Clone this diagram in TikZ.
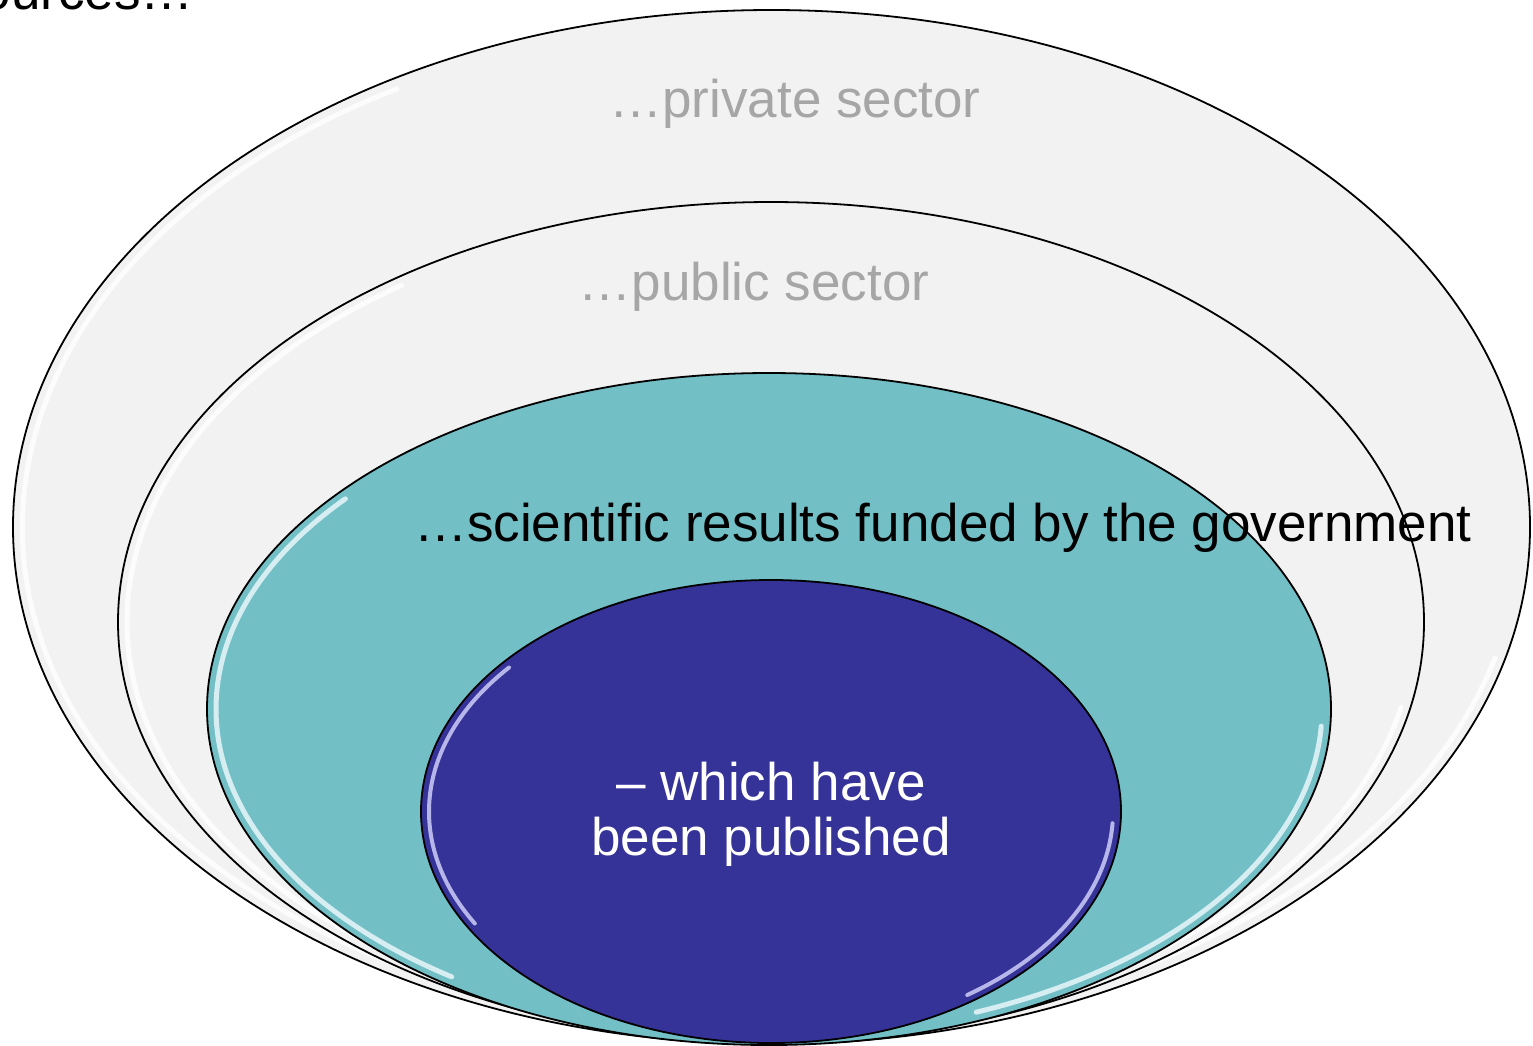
\documentclass[tikz,border=0pt]{standalone}
\usepackage{fontspec}
\setmainfont{Liberation Sans}
\usetikzlibrary{shapes.geometric}
\definecolor{shellgray}{HTML}{F2F2F2}
\definecolor{tealfill}{HTML}{72BFC6}
\definecolor{bluefill}{HTML}{363398}
\definecolor{labelgray}{HTML}{A6A6A6}
\tikzset{
  ring/.style={ellipse, draw=black, line width=1.8pt, inner sep=0pt},
  lbl/.style={font=\fontsize{53}{52}\selectfont, inner sep=0pt, anchor=base},
  gloss/.style={line width=5pt, line cap=round, opacity=0.8},
}
\begin{document}
\begin{tikzpicture}[x=1pt,y=-1pt]
\useasboundingbox (0,0) rectangle (1533,1045);
\fill[white] (0,0) rectangle (1533,1045);
% outer ellipse
\node[ring, fill=shellgray, minimum width=1517pt, minimum height=1034pt] (outer) at (771.5,527) {};
\draw[gloss, white] (771.5,527) ++(120:749pt and 506pt) arc[start angle=120, end angle=245, x radius=749pt, y radius=506pt];
\draw[gloss, white] (771.5,527) ++(-15:749pt and 506pt) arc[start angle=-15, end angle=-70, x radius=749pt, y radius=506pt];
% public sector ellipse
\node[ring, fill=shellgray, minimum width=1306pt, minimum height=840pt] (public) at (771,622) {};
\draw[gloss, white] (771,622) ++(125:644pt and 411pt) arc[start angle=125, end angle=235, x radius=644pt, y radius=411pt];
\draw[gloss, white] (771,622) ++(-12:644pt and 411pt) arc[start angle=-12, end angle=-65, x radius=644pt, y radius=411pt];
% teal ellipse
\node[ring, fill=tealfill, minimum width=1124pt, minimum height=672pt] (teal) at (769,709) {};
\draw[gloss, white!75!cyan!25] (769,709) ++(140:553pt and 327pt) arc[start angle=140, end angle=235, x radius=553pt, y radius=327pt];
\draw[gloss, white!75!cyan!25] (769,709) ++(-3:553pt and 327pt) arc[start angle=-3, end angle=-68, x radius=553pt, y radius=327pt];
% blue ellipse
\node[ring, fill=bluefill, minimum width=700pt, minimum height=463pt] (blue) at (771,811.5) {};
\draw[gloss, line width=4pt, white!55!blue!35] (771,811.5) ++(140:342pt and 224pt) arc[start angle=140, end angle=210, x radius=342pt, y radius=224pt];
\draw[gloss, line width=4pt, white!55!blue!35] (771,811.5) ++(-3:342pt and 224pt) arc[start angle=-3, end angle=-55, x radius=342pt, y radius=224pt];
% labels
\node[lbl, anchor=base east, text=black] (src) at (194,9) {sources…};
\node[lbl, text=labelgray] (priv) at (795,117) {…private sector};
\node[lbl, text=labelgray] (pub) at (754,300) {…public sector};
\node[lbl, text=black] (sci) at (943,541) {…scientific results funded by the government};
\node[lbl, text=white] (pub1) at (771,800) {– which have};
\node[lbl, text=white] (pub2) at (771,855) {been published};
\end{tikzpicture}
\end{document}
